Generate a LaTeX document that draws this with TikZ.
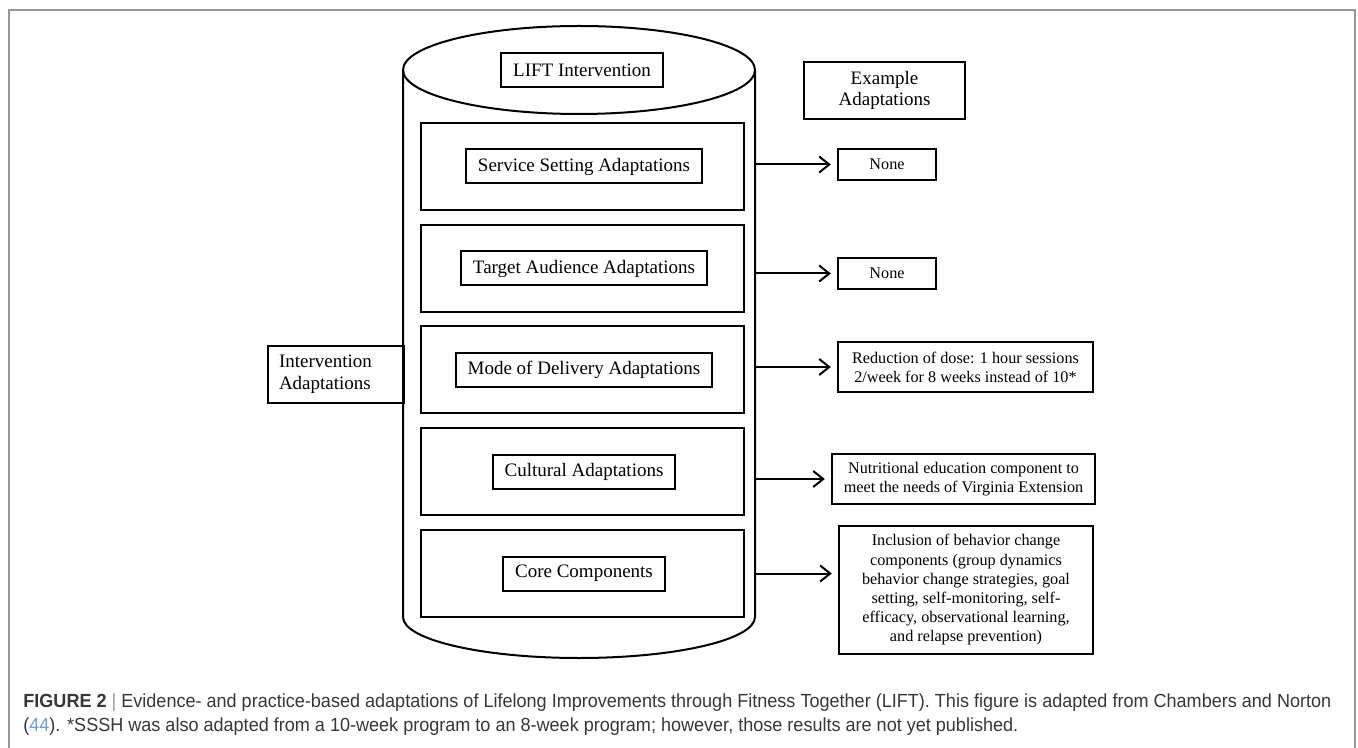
\documentclass[tikz,border=0pt]{standalone}
\usepackage{fontspec}
\setmainfont{Liberation Serif}
\newfontfamily\capfont[FakeStretch=0.95]{Liberation Sans}
\usetikzlibrary{arrows.meta}
\definecolor{capgray}{RGB}{55,55,55}
\definecolor{refblue}{RGB}{110,160,205}
\definecolor{framegray}{RGB}{150,150,150}

\tikzset{
  layer/.style={draw, line width=1pt, minimum width=161.5pt, minimum height=43.5pt},
  tag/.style={draw, line width=1pt, inner xsep=6pt, minimum height=17pt, font=\fontsize{9.5}{10.8}\selectfont},
  example/.style={draw, line width=1.2pt, align=center, inner sep=0pt, font=\fontsize{8.1}{9.6}\selectfont},
  arr/.style={line width=1pt, -{Straight Barb[length=5pt,width=8pt]}, shorten >=3pt},
}

\begin{document}
\begin{tikzpicture}[x=0.5pt, y=-0.5pt]
    \useasboundingbox (0,0) rectangle (1358,748);
    \draw [framegray, line width=0.8pt] (9,748) -- (9,10) -- (1355,10) -- (1355,748);

    % cylinder
    \draw [line width=1pt] (403,70) -- (403,617) arc [start angle=180, end angle=360, x radius=88pt, y radius=20.5pt] -- (755,70);
    \draw [line width=1pt] (579,70) ellipse [x radius=88pt, y radius=22pt];
    \coordinate (cylR) at (755,0);
    \node [tag] (lift) at (582,70) {LIFT Intervention};

    \foreach \y/\txt [count=\i] in {166.5/Service Setting Adaptations, 268.5/Target Audience Adaptations, 369.5/Mode of Delivery Adaptations, 471.5/Cultural Adaptations, 573.5/Core Components} {
        \node [layer] (l\i) at (582.5,\y) {};
        \node [tag] (t\i) at (584,\y) {\txt};
    }

    \node [draw, line width=1pt, align=left, text width=57pt, inner xsep=5.5pt, minimum height=28.5pt, font=\fontsize{9.5}{10.8}\selectfont] (interv) at (336,374.5) {Intervention\\Adaptations};

    % right column
    \node [example, minimum width=80.5pt, minimum height=28.5pt, font=\fontsize{9.5}{10.8}\selectfont] (head) at (884.5,90.5) {Example\\Adaptations};
    \node [example, minimum width=49pt, minimum height=15.5pt] (ex1) at (887,164.5) {None};
    \node [example, minimum width=49pt, minimum height=15.5pt] (ex2) at (887,273.5) {None};
    \node [example, minimum width=127.5pt, minimum height=25pt] (ex3) at (965.5,367) {Reduction of dose: 1 hour sessions\\2/week for 8 weeks instead of 10*};
    \node [example, minimum width=131.5pt, minimum height=25pt] (ex4) at (963.5,479) {Nutritional education component to\\meet the needs of Virginia Extension};
    \node [example, minimum width=127pt, minimum height=64pt] (ex5) at (966,590) {Inclusion of behavior change\\components (group dynamics\\behavior change strategies, goal\\setting, self-monitoring, self-\\efficacy, observational learning,\\and relapse prevention)};

    \draw [arr] (cylR |- ex1.west) -- (ex1.west);
    \draw [arr] (cylR |- ex2.west) -- (ex2.west);
    \draw [arr] (cylR |- ex3.west) -- (ex3.west);
    \draw [arr] (cylR |- ex4.west) -- (ex4.west);
    \draw [arr] (cylR |- l5) -- (ex5.west |- l5);

    \node [anchor=north west, align=left, inner sep=0pt, text=capgray, font=\capfont\fontsize{9.5}{12.4}\selectfont] (cap) at (23,693) {\textbf{FIGURE 2} {\color{framegray}|} Evidence- and practice-based adaptations of Lifelong Improvements through Fitness Together (LIFT). This figure is adapted from Chambers and Norton\\(\textcolor{refblue}{44}). *SSSH was also adapted from a 10-week program to an 8-week program; however, those results are not yet published.};
\end{tikzpicture}
\end{document}
